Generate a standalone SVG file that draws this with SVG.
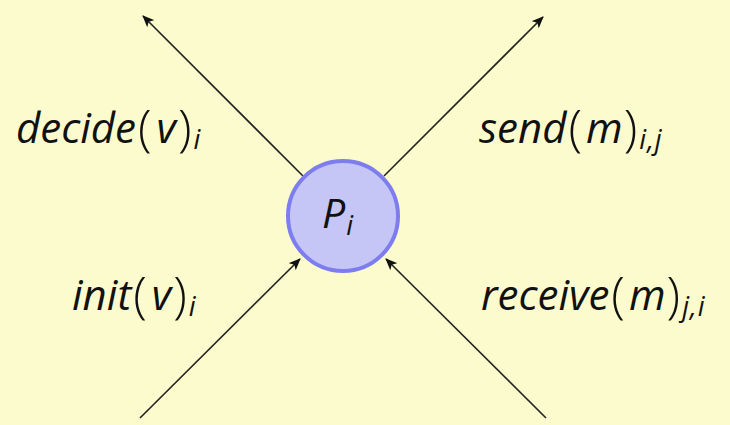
<svg xmlns="http://www.w3.org/2000/svg" width="730" height="425" viewBox="0 0 730 425">
<style>
.lbl{font-family:"Open Sans","DejaVu Sans",sans-serif;font-size:42px;fill:#111}
.it{font-style:italic}
.sub{font-size:27px;font-style:italic;letter-spacing:1px}
.par{font-style:normal;font-weight:300;font-size:50px}
.edge{stroke:#222;stroke-width:1.6;fill:none;marker-end:url(#ah)}
</style>
<defs>
<marker id="ah" viewBox="0 0 12 10" refX="11" refY="5" markerWidth="12" markerHeight="10" markerUnits="userSpaceOnUse" orient="auto">
<path d="M0,0 L12,5 L0,10 L3,5 Z" fill="#111"/>
</marker>
</defs>
<rect width="730" height="425" fill="#FBFBCD"/>
<g id="connectors">
<line class="edge" x1="303" y1="176" x2="143" y2="16"/>
<line class="edge" x1="384" y1="176" x2="543" y2="17"/>
<line class="edge" x1="140" y1="418" x2="300" y2="259"/>
<line class="edge" x1="546" y1="418" x2="386" y2="259"/>
</g>
<g id="Pi">
<circle cx="343" cy="216" r="55" fill="#C6C6F6" stroke="#7D7DF0" stroke-width="4"/>
<text class="lbl" x="322" y="228" style="font-size:41px"><tspan class="it">P</tspan><tspan class="sub" dx="1" dy="7">i</tspan></text>
</g>
<g id="decide">
<text class="lbl" x="16" y="143"><tspan class="it">decide</tspan><tspan class="par" dx="2" dy="3">(</tspan><tspan class="it" dx="5" dy="-3">v</tspan><tspan class="par" dx="2" dy="3">)</tspan><tspan class="sub" dx="2" dy="3">i</tspan></text>
</g>
<g id="send">
<text class="lbl" x="479" y="143"><tspan class="it">send</tspan><tspan class="par" dx="2" dy="3">(</tspan><tspan class="it" dx="4" dy="-3">m</tspan><tspan class="par" dx="1" dy="3">)</tspan><tspan class="sub" dx="2" dy="3">i,j</tspan></text>
</g>
<g id="init">
<text class="lbl" x="72" y="310"><tspan class="it">init</tspan><tspan class="par" dx="2" dy="3">(</tspan><tspan class="it" dx="5" dy="-3">v</tspan><tspan class="par" dx="2" dy="3">)</tspan><tspan class="sub" dx="2" dy="3">i</tspan></text>
</g>
<g id="receive">
<text class="lbl" x="481" y="310"><tspan class="it">receive</tspan><tspan class="par" dx="2" dy="3">(</tspan><tspan class="it" dx="4" dy="-3">m</tspan><tspan class="par" dx="1" dy="3">)</tspan><tspan class="sub" dx="2" dy="3">j,i</tspan></text>
</g>
</svg>
